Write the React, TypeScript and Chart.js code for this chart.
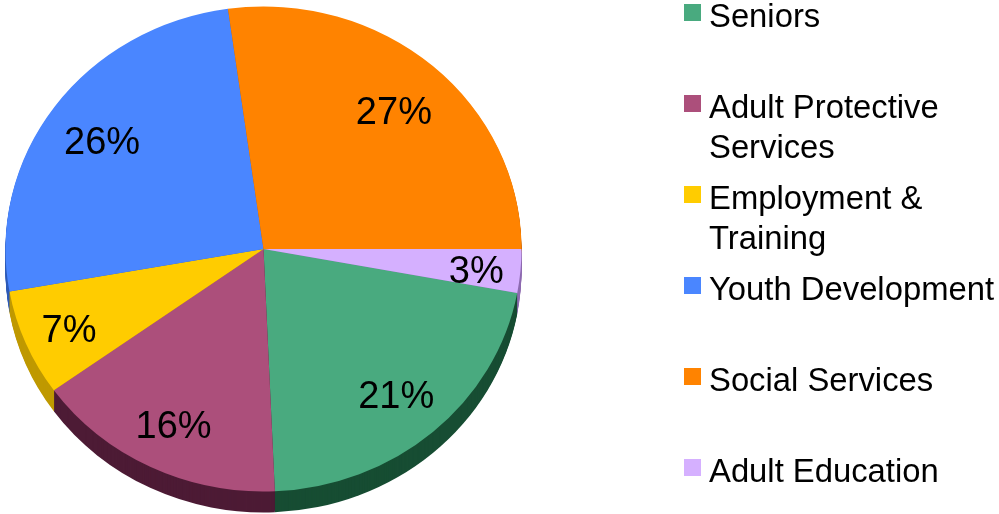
import React, { useEffect, useRef } from "react";
import { Chart, registerables } from "chart.js";

Chart.register(...registerables);

// ---- data ----
const categories = [
  "Seniors",
  "Adult Protective Services",
  "Employment & Training",
  "Youth Development",
  "Social Services",
  "Adult Education",
];
const legendLines = [
  ["Seniors"],
  ["Adult Protective", "Services"],
  ["Employment &", "Training"],
  ["Youth Development"],
  ["Social Services"],
  ["Adult Education"],
];
const shares = [21.4, 15.8, 7.1, 25.6, 27.2, 2.9];
const topColors = ["#49aa7f", "#ac4f7b", "#ffcc00", "#4a86ff", "#ff8300", "#d5b0ff"];
const sideColors = ["#174d33", "#4d1b35", "#bf9900", "#2f5cb8", "#b85c00", "#8e6cb0"];

// ---- geometry / style ----
const W = 999;
const H = 514;
const RX = 258;
const RY = 242.5;
const DEPTH = 21;
const FONT = "'Liberation Sans', Arial, Helvetica, sans-serif";

const tiltPlugin = {
  id: "tilt",
  beforeDatasetsDraw(chart: any) {
    const ctx = chart.ctx;
    const arcs = chart.getDatasetMeta(0).data;
    const k = RY / RX;
    let cx = 0;
    let cy = 0;
    if (arcs.length) {
      const c = arcs[0].getProps(["x", "y"], true);
      cx = c.x;
      cy = c.y;
      for (let d = DEPTH; d >= 1; d--) {
        ctx.save();
        ctx.translate(cx, cy + d);
        ctx.scale(1, k);
        arcs.forEach((arc: any, i: number) => {
          const p = arc.getProps(["startAngle", "endAngle", "outerRadius"], true);
          ctx.beginPath();
          ctx.moveTo(0, 0);
          ctx.arc(0, 0, p.outerRadius, p.startAngle, p.endAngle);
          ctx.closePath();
          ctx.fillStyle = sideColors[i];
          ctx.fill();
        });
        ctx.restore();
      }
    }
    ctx.save();
    ctx.translate(cx, cy);
    ctx.scale(1, k);
    ctx.translate(-cx, -cy);
  },
  afterDatasetsDraw(chart: any) {
    chart.ctx.restore();
  },
};

const labelPlugin = {
  id: "sliceLabels",
  afterDraw(chart: any) {
    const ctx = chart.ctx;
    const arcs = chart.getDatasetMeta(0).data;
    const k = RY / RX;
    ctx.save();
    ctx.font = `38px ${FONT}`;
    ctx.fillStyle = "#000";
    ctx.textAlign = "center";
    ctx.textBaseline = "alphabetic";
    arcs.forEach((arc: any, i: number) => {
      const p = arc.getProps(["x", "y", "startAngle", "endAngle", "outerRadius"], true);
      const mid = (p.startAngle + p.endAngle) / 2;
      const frac = 0.835 - 0.0024 * shares[i];
      const r = p.outerRadius * frac;
      const px = p.x + Math.cos(mid) * r;
      const py = p.y + 2 + Math.sin(mid) * r * k;
      ctx.fillText(`${Math.round(shares[i])}%`, px, py + 13.6);
    });
    ctx.restore();
  },
};

export default function App() {
  const ref = useRef<HTMLCanvasElement | null>(null);

  useEffect(() => {
    if (!ref.current) return;
    const chart = new Chart(ref.current, {
      type: "pie",
      data: {
        labels: categories,
        datasets: [
          {
            data: shares,
            backgroundColor: topColors,
            borderWidth: 0,
            clip: false as any,
          } as any,
        ],
      },
      options: {
        animation: false,
        responsive: false,
        rotation: 90 + (shares[shares.length - 1] / 100) * 360,
        radius: RX,
        layout: { padding: { left: 5, right: 477, top: 0, bottom: 16 } },
        plugins: {
          legend: { display: false },
          tooltip: { enabled: false },
        },
        events: [],
      } as any,
      plugins: [tiltPlugin, labelPlugin],
    });
    return () => chart.destroy();
  }, []);

  return (
    <div
      style={{
        position: "fixed",
        left: 0,
        top: 0,
        width: W,
        height: H,
        background: "#fff",
        overflow: "hidden",
      }}
    >
      <canvas ref={ref} width={W} height={H} style={{ position: "absolute", left: 0, top: 0 }} />
      {legendLines.map((lines, i) => {
        const top = 4 + 91 * i;
        return (
          <div key={categories[i]}>
            <div
              style={{
                position: "absolute",
                left: 684,
                top,
                width: 17,
                height: 17,
                background: topColors[i],
              }}
            />
            <div
              style={{
                position: "absolute",
                left: 709,
                top: top - 8,
                font: `32.8px ${FONT}`,
                lineHeight: "40px",
                color: "#000",
                whiteSpace: "nowrap",
              }}
            >
              {lines.map((l, j) => (
                <div key={j}>{l}</div>
              ))}
            </div>
          </div>
        );
      })}
    </div>
  );
}
